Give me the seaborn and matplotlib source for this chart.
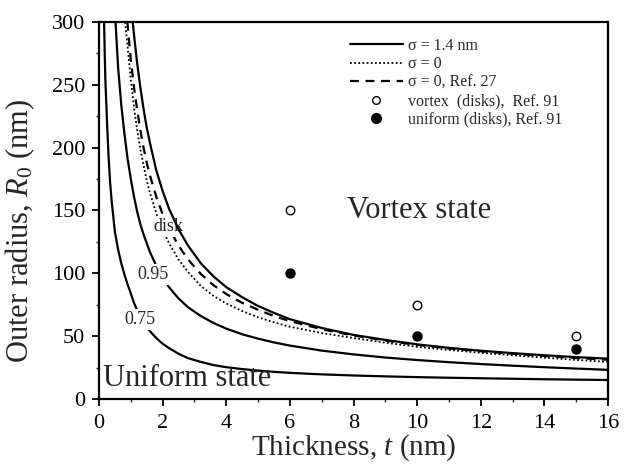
import numpy as np
import pandas as pd
import matplotlib
matplotlib.use("Agg")
import matplotlib.pyplot as plt
import seaborn as sns
from matplotlib.ticker import MultipleLocator
from matplotlib.lines import Line2D

# ---------------- data ----------------
t_075 = [0.16, 0.18, 0.20, 0.25, 0.30, 0.35, 0.40, 0.50, 0.60, 0.70, 0.80, 0.90, 1.00, 1.10, 1.20,
         1.40, 1.60, 1.80, 2.00, 2.20, 2.50, 2.80, 3.20, 3.60, 4.00, 4.50, 5.00, 5.50, 6.00, 7.00,
         8.00, 9.00, 10.0, 11.0, 12.0, 13.0, 14.0, 15.0, 16.0]
R_075 = [300, 275, 254, 222, 193, 172, 157, 133, 119, 108, 99, 91, 84, 76.5, 70.5,
         61, 54, 48.5, 44, 40.5, 36, 32.5, 29.5, 27, 25.3, 23.8, 22.6, 21.6, 20.8, 19.6,
         18.7, 18.0, 17.4, 16.9, 16.5, 16.1, 15.7, 15.4, 15.1]

t_095 = [0.52, 0.60, 0.70, 0.80, 0.90, 1.00, 1.10, 1.20, 1.30, 1.40, 1.60, 1.80, 2.00, 2.20, 2.50,
         2.80, 3.20, 3.60, 4.00, 4.50, 5.00, 5.50, 6.00, 7.00, 8.00, 9.00, 10.0, 11.0, 12.0, 13.0,
         14.0, 15.0, 16.0]
R_095 = [300, 264, 234, 211, 191, 175, 161, 149, 139, 131, 117, 106, 96.5, 89, 80,
         73, 66, 60.5, 56, 51.5, 48, 45, 42.5, 38.5, 35.5, 33, 31, 29.3, 27.8, 26.5,
         25.3, 24.2, 23.2]

t_disk = [1.06, 1.10, 1.20, 1.30, 1.40, 1.50, 1.60, 1.80, 2.00, 2.20, 2.50, 2.80, 3.20, 3.60, 4.00,
          4.50, 5.00, 5.50, 6.00, 7.00, 8.00, 9.00, 10.0, 11.0, 12.0, 13.0, 14.0, 15.0, 16.0]
R_disk = [300, 290, 267, 248, 231, 216, 204, 182, 165.5, 151.5, 135, 122, 108, 97.5, 89,
          81, 74, 68.5, 63.5, 56.5, 51, 47, 43.5, 40.7, 38.4, 36.5, 34.8, 33.3, 32.1]

t_sig0 = [0.82, 0.90, 1.00, 1.10, 1.20, 1.30, 1.40, 1.50, 1.60, 1.80, 2.00, 2.20, 2.50, 2.80, 3.20,
          3.60, 4.00, 4.50, 5.00, 5.50, 6.00, 7.00, 8.00, 9.00, 10.0, 11.0, 12.0, 13.0, 14.0, 15.0, 16.0]
R_sig0 = [300, 280, 254, 232, 214, 199, 186, 174, 164, 148, 135, 124, 111, 101, 90,
          82, 76, 70, 65, 61, 57.5, 52.5, 48.5, 44.8, 41.5, 39, 36.8, 34.8, 32.9, 31.1, 29.5]

t_ref27 = [0.89, 1.00, 1.10, 1.20, 1.30, 1.40, 1.50, 1.60, 1.80, 2.00, 2.20, 2.50, 2.80, 3.20, 3.60,
           4.00, 4.50, 5.00, 5.50, 6.00, 7.00, 8.00, 9.00, 10.0, 11.0, 12.0, 13.0, 14.0, 15.0, 16.0]
R_ref27 = [300, 270, 248, 230, 214, 200, 188, 178, 161, 147, 136, 122, 111, 99.5, 90.5,
           83.5, 76.5, 71, 66, 62, 55.5, 50.5, 46.5, 43, 40.3, 38, 36, 34.2, 32.6, 31.2]

t_pts = [6, 10, 15]
R_vortex = [150, 75, 50]
R_uniform = [100, 50, 40]

legend_labels = ["σ = 1.4 nm", "σ = 0", "σ = 0, Ref. 27",
                 "vortex  (disks),  Ref. 91", "uniform (disks), Ref. 91"]

# ---------------- style ----------------
sns.set_theme(style="ticks")
plt.rcParams["font.family"] = ["Liberation Serif", "DejaVu Serif"]
plt.rcParams["mathtext.fontset"] = "custom"
plt.rcParams["mathtext.rm"] = "Liberation Serif"
plt.rcParams["mathtext.it"] = "Liberation Serif:italic"

fig, ax = plt.subplots(figsize=(6.25, 4.66), dpi=100)
fig.subplots_adjust(left=0.1584, right=0.9728, top=0.9528, bottom=0.1438)

lw = 1.6
sns.lineplot(x=t_075, y=R_075, ax=ax, color="black", lw=lw, sort=False, estimator=None, zorder=2)
sns.lineplot(x=t_095, y=R_095, ax=ax, color="black", lw=lw, sort=False, estimator=None, zorder=2)
sns.lineplot(x=t_sig0, y=R_sig0, ax=ax, color="black", lw=1.3, sort=False, estimator=None,
             linestyle=(0, (1, 1.3)), zorder=2)
sns.lineplot(x=t_ref27, y=R_ref27, ax=ax, color="black", lw=lw, sort=False, estimator=None,
             linestyle=(0, (4, 3)), zorder=2)
sns.lineplot(x=t_disk, y=R_disk, ax=ax, color="black", lw=lw, sort=False, estimator=None, zorder=4)

sns.scatterplot(x=t_pts, y=R_vortex, ax=ax, marker="o", s=38, color="white",
                edgecolor="black", linewidth=1.0, zorder=5)
sns.scatterplot(x=t_pts, y=R_uniform, ax=ax, marker="o", s=42, color="black",
                edgecolor="black", linewidth=1.0, zorder=5)

# curve labels
bb = dict(facecolor="white", edgecolor="none", pad=1.5)
ax.text(2.17, 137, "disk", fontsize=13, ha="center", va="center", bbox=bb, zorder=3)
ax.text(1.70, 99, "0.95", fontsize=13, ha="center", va="center", bbox=bb, zorder=3)
ax.text(1.29, 63, "0.75", fontsize=13, ha="center", va="center", bbox=bb, zorder=3)

ax.text(7.8, 150, "Vortex state", fontsize=22, ha="left", va="center")
ax.text(0.13, 16, "Uniform state", fontsize=22, ha="left", va="center")

ax.set_xlim(0, 16)
ax.set_ylim(0, 300)
ax.xaxis.set_major_locator(MultipleLocator(2))
ax.xaxis.set_minor_locator(MultipleLocator(1))
ax.yaxis.set_major_locator(MultipleLocator(50))
ax.yaxis.set_minor_locator(MultipleLocator(25))
ax.tick_params(which="major", direction="out", length=5, width=1.3, labelsize=16, colors="black", pad=5)
ax.tick_params(axis="x", which="major", pad=6)
ax.tick_params(which="minor", direction="out", length=2.5, width=1.0)
for s in ax.spines.values():
    s.set_linewidth(1.6)
    s.set_color("black")

ax.set_xlabel(r"Thickness, $t$ (nm)", fontsize=21, labelpad=-1)
ax.set_ylabel(r"Outer radius, $R_0$ (nm)", fontsize=22)
ax.yaxis.set_label_coords(-0.122, 0.446)

handles = [
    Line2D([], [], color="black", lw=lw),
    Line2D([], [], color="black", lw=1.3, linestyle=(0, (1, 1.3))),
    Line2D([], [], color="black", lw=lw, linestyle=(0, (4, 3))),
    Line2D([], [], color="black", marker="o", markerfacecolor="white", markersize=5.5, lw=0, markeredgewidth=1.0),
    Line2D([], [], color="black", marker="o", markerfacecolor="black", markersize=7, lw=0),
]
leg = ax.legend(handles, legend_labels, loc="upper left",
                bbox_to_anchor=((350 - 99) / 509, 1 - (38 - 22) / 377),
                frameon=False, fontsize=11.5, handlelength=3.3, handletextpad=0.35,
                labelspacing=0.15, borderaxespad=0, borderpad=0)

fig.savefig("out.png", dpi=100)
